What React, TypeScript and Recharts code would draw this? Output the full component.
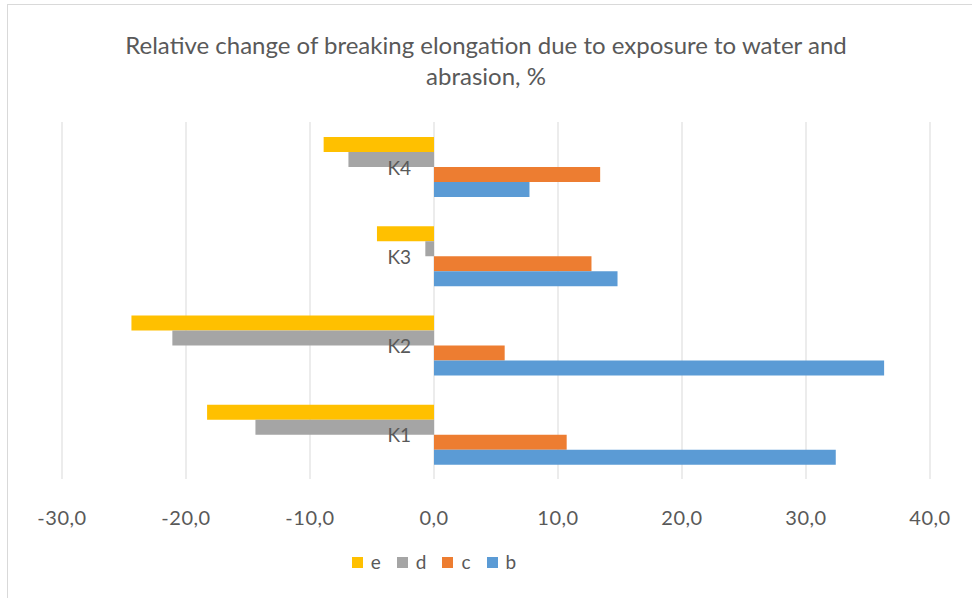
import React from "react";
import { BarChart, Bar, XAxis, YAxis, CartesianGrid, LabelList } from "recharts";

const categories = ["K1", "K2", "K3", "K4"];
const seriesB = [32.4, 36.3, 14.8, 7.7];
const seriesC = [10.7, 5.7, 12.7, 13.4];
const seriesD = [-14.4, -21.1, -0.7, -6.9];
const seriesE = [-18.3, -24.4, -4.6, -8.9];
const xTicks = [-30, -20, -10, 0, 10, 20, 30, 40];
const titleLines = [
  "Relative change of breaking elongation due to exposure to water and",
  "abrasion, %",
];

const series = [
  { key: "e", name: "e", color: "#FFC000" },
  { key: "d", name: "d", color: "#A5A5A5" },
  { key: "c", name: "c", color: "#ED7D31" },
  { key: "b", name: "b", color: "#5B9BD5" },
];

const data = categories.map((name, i) => ({
  name,
  b: seriesB[i],
  c: seriesC[i],
  d: seriesD[i],
  e: seriesE[i],
}));

const FONT = "Lato, 'Open Sans', sans-serif";
const TEXT = "#595959";

const fmt = (v: number) => v.toFixed(1).replace(".", ",");

const CategoryLabel = (props: any) => {
  const { x, y, value } = props;
  return (
    <text
      x={Number(x) - 23}
      y={Number(y)}
      textAnchor="end"
      dominantBaseline="central"
      fill={TEXT}
      fontSize={19}
      fontFamily={FONT}
    >
      {value}
    </text>
  );
};

export default function App() {
  return (
    <div
      style={{
        position: "absolute",
        left: 0,
        top: 0,
        width: 972,
        height: 598,
        background: "#fff",
        fontFamily: FONT,
      }}
    >
      <div
        style={{
          position: "absolute",
          left: 7,
          top: 4,
          width: 970,
          height: 600,
          borderTop: "1px solid #d9d9d9",
          borderLeft: "1px solid #d9d9d9",
          boxSizing: "border-box",
        }}
      />
      <div
        style={{
          position: "absolute",
          left: 0,
          top: 29,
          width: 972,
          textAlign: "center",
          color: TEXT,
          fontSize: 24,
          lineHeight: "31px",
        }}
      >
        {titleLines.map((t) => (
          <div key={t}>{t}</div>
        ))}
      </div>
      <div style={{ position: "absolute", left: 0, top: 0 }}>
        <BarChart
          width={972}
          height={598}
          data={data}
          layout="vertical"
          margin={{ top: 122, right: 42, bottom: 59, left: 62 }}
          barGap={0}
          barSize={15}
        >
          <CartesianGrid horizontal={false} stroke="#d9d9d9" />
          <XAxis
            type="number"
            domain={[-30, 40]}
            ticks={xTicks}
            tickFormatter={fmt}
            axisLine={false}
            tickLine={false}
            tickMargin={26}
            height={60}
            tick={{ fill: TEXT, fontSize: 20, fontFamily: FONT, letterSpacing: 0.5 }}
            interval={0}
          />
          <YAxis type="category" dataKey="name" reversed hide />
          {series.map((s) => (
            <Bar
              key={s.key}
              dataKey={s.key}
              name={s.name}
              fill={s.color}
              isAnimationActive={false}
            >
              {s.key === "c" ? (
                <LabelList dataKey="name" content={<CategoryLabel />} />
              ) : null}
            </Bar>
          ))}
        </BarChart>
      </div>
      <div
        style={{
          position: "absolute",
          left: 0,
          top: 551,
          width: 868,
          display: "flex",
          justifyContent: "center",
          color: TEXT,
          fontSize: 19,
          lineHeight: "22px",
        }}
      >
        {series.map((s) => (
          <div
            key={s.key}
            style={{ display: "flex", alignItems: "center", margin: "0 8px" }}
          >
            <span
              style={{
                display: "inline-block",
                width: 11,
                height: 11,
                background: s.color,
                marginRight: 8,
              }}
            />
            <span>{s.name}</span>
          </div>
        ))}
      </div>
    </div>
  );
}
